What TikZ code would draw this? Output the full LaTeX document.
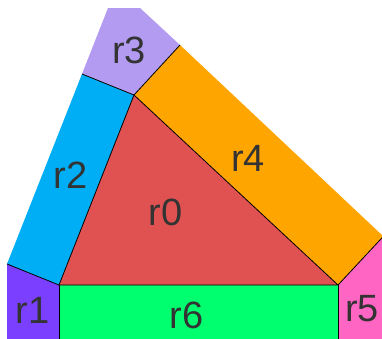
\documentclass[tikz,border=0pt]{standalone}
\usepackage{fontspec}
\setmainfont{Liberation Sans}
\definecolor{rzero}{HTML}{E05252}
\definecolor{rone}{HTML}{7B3FFF}
\definecolor{rtwo}{HTML}{00AEF5}
\definecolor{rthree}{HTML}{B39BF2}
\definecolor{rfour}{HTML}{FFA500}
\definecolor{rfive}{HTML}{FF66C4}
\definecolor{rsix}{HTML}{00FF6E}
\definecolor{txt}{HTML}{333333}
\begin{document}
\begin{tikzpicture}[x=1pt, y=-1pt,
    lbl/.style={text=txt, font=\fontsize{38}{38}\selectfont},
    edge/.style={line width=0.8pt, black}]
    \useasboundingbox (0,0) rectangle (382,338);
    \clip (0,0) rectangle (382,338);
    % triangle corners and offset corners
    \coordinate (A) at (134,95);
    \coordinate (B) at (59,285);
    \coordinate (C) at (338,285);
    \coordinate (P1) at (7,264);
    \coordinate (P2) at (82,74);
    \coordinate (P3) at (180,45);
    \coordinate (P4) at (383.5,236.5);
    \coordinate (P5) at (400,218.5);
    % regions
    \fill[rone] (P1) -- (B) -- (59,340) -- (7,340) -- cycle;
    \fill[rtwo] (B) -- (P1) -- (P2) -- (A) -- cycle;
    \fill[rthree] (A) -- (P2) -- (108,8) -- (140,8) -- (P3) -- cycle;
    \fill[rfour] (A) -- (P3) -- (P4) -- (C) -- cycle;
    \fill[rfive] (C) -- (P5) -- (400,340) -- (338,340) -- cycle;
    \fill[rsix] (B) -- (C) -- (338,340) -- (59,340) -- cycle;
    \fill[rzero] (A) -- (B) -- (C) -- cycle;
    % borders
    \draw[edge] (A) -- (B) -- (C) -- cycle;
    \draw[edge] (B) -- (P1);
    \draw[edge] (A) -- (P2);
    \draw[edge] (A) -- (P3);
    \draw[edge] (C) -- (P5);
    \draw[edge] (B) -- (59,340);
    \draw[edge] (C) -- (338,340);
    % labels
    \node[lbl] at (165.5,212) {r0};
    \node[lbl] at (32.5,310) {r1};
    \node[lbl] at (70.5,175) {r2};
    \node[lbl] at (129,50.5) {r3};
    \node[lbl] at (248,158) {r4};
    \node[lbl] at (362,308.5) {r5};
    \node[lbl] at (186.5,315.5) {r6};
\end{tikzpicture}
\end{document}
